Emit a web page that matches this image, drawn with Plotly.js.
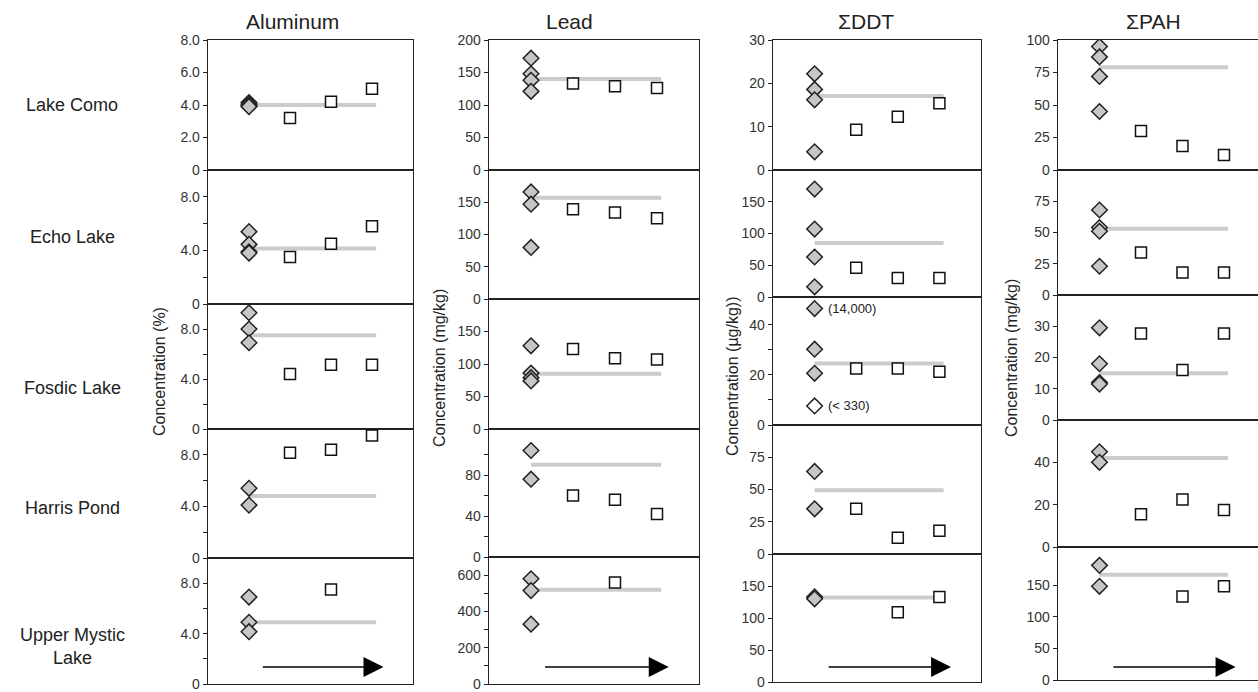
<!DOCTYPE html>
<html><head><meta charset="utf-8">
<script src="https://cdn.plot.ly/plotly-3.0.1.min.js"></script>
<style>html,body{margin:0;padding:0;background:#fff}#chart{width:1258px;height:692px}</style>
</head><body><div id="chart"></div><script>
// ---------- data ----------
const analytes = ["Aluminum", "Lead", "ΣDDT", "ΣPAH"];
const lakes = ["Lake Como", "Echo Lake", "Fosdic Lake", "Harris Pond", "Upper Mystic<br>Lake"];
const yTitles = ["Concentration (%)", "Concentration (mg/kg)", "Concentration (µg/kg))", "Concentration (mg/kg)"];

// sample positions along the core (x index)
const diamondX = 1;
const squareX = [2, 3, 4];
const meanSpan = [1, 4.1];

// Aluminum (%)
const alDiamonds = [[4.15, 4.05, 3.95, 3.9], [5.4, 4.45, 3.9, 3.8], [9.3, 8.0, 6.9], [5.4, 4.1], [6.9, 4.9, 4.15]];
const alMean = [4.0, 4.15, 7.5, 4.8, 4.9];
const alSquares = [[3.2, 4.2, 5.0], [3.5, 4.5, 5.8], [4.4, 5.15, 5.15], [8.15, 8.4, 9.5], [null, 7.5, null]];

// Lead (mg/kg)
const pbDiamonds = [[172, 148, 138, 121], [166, 147, 80], [128, 86, 79, 74], [104, 76], [580, 515, 330]];
const pbMean = [140, 157, 85, 90, 520];
const pbSquares = [[133, 129, 126], [139, 134, 125], [123, 109, 107], [60, 56, 42], [null, 560, null]];

// ΣDDT (µg/kg)
const ddtDiamonds = [[22.2, 18.6, 16.2, 4.2], [170, 107, 63, 16], [46.4, 30.2, 20.6], [64, 35], [133, 130]];
const ddtOpenDiamonds = [[], [], [7.6], [], []];
const ddtMean = [17.1, 85, 24.5, 49.5, 132];
const ddtSquares = [[9.3, 12.3, 15.4], [46, 30, 30], [22.5, 22.5, 21.2], [35, 12.5, 18], [null, 109, 133]];
const ddtNotes = [{row: 2, y: 46.4, text: "(14,000)"}, {row: 2, y: 7.6, text: "(< 330)"}];

// ΣPAH (mg/kg)
const pahDiamonds = [[95, 87, 72, 45], [68, 54, 51, 23], [29.5, 18, 12, 11.5], [45, 40], [181, 148]];
const pahMean = [79, 53, 15, 42, 166];
const pahSquares = [[30, 18.5, 11.5], [34, 18, 18], [27.7, 16, 27.7], [15.5, 22.5, 17.5], [null, 132, 148]];

// y ranges and ticks
const alRanges = [[0, 8], [0, 10], [0, 10], [0, 10], [0, 10]];
const pbRanges = [[0, 200], [0, 200], [0, 200], [0, 125], [0, 700]];
const ddtRanges = [[0, 30], [0, 200], [0, 51], [0, 100], [0, 200]];
const pahRanges = [[0, 100], [0, 100], [0, 40], [0, 60], [0, 210]];

const alTickVals = [[0, 2, 4, 6, 8], [0, 2, 4, 6, 8], [0, 2, 4, 6, 8], [0, 2, 4, 6, 8], [0, 2, 4, 6, 8]];
const alTickText = [["0", "2.0", "4.0", "6.0", "8.0"], ["0", "", "4.0", "", "8.0"], ["0", "", "4.0", "", "8.0"], ["0", "", "4.0", "", "8.0"], ["0", "", "4.0", "", "8.0"]];
const pbTickVals = [[0, 50, 100, 150, 200], [0, 50, 100, 150], [0, 50, 100, 150], [0, 20, 40, 60, 80, 100], [0, 100, 200, 300, 400, 500, 600]];
const pbTickText = [["0", "50", "100", "150", "200"], ["0", "50", "100", "150"], ["0", "50", "100", "150"], ["0", "", "40", "", "80", ""], ["0", "", "200", "", "400", "", "600"]];
const ddtTickVals = [[0, 10, 20, 30], [0, 50, 100, 150], [0, 10, 20, 30, 40], [0, 25, 50, 75], [0, 50, 100, 150]];
const ddtTickText = [["0", "10", "20", "30"], ["0", "50", "100", "150"], ["0", "", "20", "", "40"], ["0", "25", "50", "75"], ["0", "50", "100", "150"]];
const pahTickVals = [[0, 25, 50, 75, 100], [0, 25, 50, 75], [0, 10, 20, 30], [0, 20, 40], [0, 50, 100, 150]];
const pahTickText = [["0", "25", "50", "75", "100"], ["0", "25", "50", "75"], ["0", "10", "20", "30"], ["0", "20", "40"], ["0", "50", "100", "150"]];

// ---------- layout geometry (pixels) ----------
const W = 1258, H = 692;
const cols = [
  {L: 208, R: 413, rows: [40, 170, 304, 429, 558, 684], xr: [0, 5], mirrorY: true, titleX: 292, yTitleX: 159, yTitleY: 372},
  {L: 489, R: 699, rows: [40, 170, 299, 429, 557, 684], xr: [0, 5], mirrorY: true, titleX: 569, yTitleX: 440, yTitleY: 368},
  {L: 773, R: 981, rows: [40, 170, 297, 425, 554, 682], xr: [0, 5], mirrorY: true, titleX: 866, yTitleX: 733, yTitleY: 376},
  {L: 1058, R: 1258, rows: [40, 170, 295, 420, 547, 680], xr: [0, 4.82], mirrorY: false, titleX: 1153, yTitleX: 1011, yTitleY: 358}
];
const colData = [
  {d: alDiamonds, m: alMean, s: alSquares, r: alRanges, tv: alTickVals, tt: alTickText},
  {d: pbDiamonds, m: pbMean, s: pbSquares, r: pbRanges, tv: pbTickVals, tt: pbTickText},
  {d: ddtDiamonds, m: ddtMean, s: ddtSquares, r: ddtRanges, tv: ddtTickVals, tt: ddtTickText, open: ddtOpenDiamonds},
  {d: pahDiamonds, m: pahMean, s: pahSquares, r: pahRanges, tv: pahTickVals, tt: pahTickText}
];

const FONT = "Liberation Sans, Arial, sans-serif";
const traces = [];
const layout = {
  width: W, height: H, margin: {l: 0, r: 0, t: 0, b: 0},
  paper_bgcolor: "#fff", plot_bgcolor: "#fff", showlegend: false,
  font: {family: FONT, color: "#222"},
  annotations: [], shapes: []
};

cols.forEach((c, ci) => {
  const cd = colData[ci];
  for (let ri = 0; ri < 5; ri++) {
    const k = ci * 5 + ri + 1;
    const xa = "x" + k, ya = "y" + k;
    const top = c.rows[ri], bot = c.rows[ri + 1];
    layout["xaxis" + k] = {
      domain: [c.L / W, c.R / W], range: c.xr, anchor: ya,
      showticklabels: false, ticks: "", showgrid: false, zeroline: false,
      showline: true, mirror: true, linecolor: "#222", linewidth: 1.3, fixedrange: true
    };
    layout["yaxis" + k] = {
      domain: [1 - bot / H, 1 - top / H], range: cd.r[ri], anchor: xa,
      tickmode: "array", tickvals: cd.tv[ri], ticktext: cd.tt[ri],
      ticks: "outside", ticklen: 4, tickwidth: 1, tickcolor: "#222",
      ticklabeloverflow: "allow",
      tickfont: {family: FONT, size: 14, color: "#333"},
      showgrid: false, zeroline: false, showline: true, mirror: c.mirrorY,
      linecolor: "#222", linewidth: 1.3, fixedrange: true
    };
    // mean line
    traces.push({x: meanSpan, y: [cd.m[ri], cd.m[ri]], xaxis: xa, yaxis: ya, mode: "lines",
      line: {color: "#cccccc", width: 4}, hoverinfo: "skip"});
    // squares
    traces.push({x: squareX, y: cd.s[ri], xaxis: xa, yaxis: ya, mode: "markers",
      marker: {symbol: "square", size: 11, color: "#fff", line: {color: "#111", width: 1.5}}});
    // diamonds
    traces.push({x: cd.d[ri].map(() => diamondX), y: cd.d[ri], xaxis: xa, yaxis: ya, mode: "markers",
      marker: {symbol: "diamond", size: 12, color: "#c6c6c6", line: {color: "#222", width: 1.5}}});
    if (cd.open && cd.open[ri].length) {
      traces.push({x: cd.open[ri].map(() => diamondX), y: cd.open[ri], xaxis: xa, yaxis: ya, mode: "markers",
        marker: {symbol: "diamond", size: 12, color: "#fff", line: {color: "#222", width: 1.5}}});
    }
    if (ri === 4) {
      // time arrow
      layout.annotations.push({
        xref: xa, yref: "paper", x: 4.28, y: 1 - 667 / H,
        axref: xa, ax: 1.3, ayref: "pixel", ay: 0,
        showarrow: true, arrowhead: 2, arrowsize: 2.5, arrowwidth: 1.6, arrowcolor: "#000", text: ""
      });
    }
  }
  // column title
  layout.annotations.push({xref: "paper", yref: "paper", x: c.titleX / W, y: 1 - 22 / H,
    text: analytes[ci], showarrow: false, font: {size: 21, family: FONT, color: "#222"},
    xanchor: "center", yanchor: "middle"});
  // y title
  layout.annotations.push({xref: "paper", yref: "paper", x: c.yTitleX / W, y: 1 - c.yTitleY / H,
    text: yTitles[ci], textangle: -90, showarrow: false, font: {size: 16, family: FONT, color: "#222"},
    xanchor: "center", yanchor: "middle"});
});

// DDT notes
ddtNotes.forEach(n => {
  const k = 2 * 5 + n.row + 1;
  layout.annotations.push({xref: "x" + k, yref: "y" + k, x: diamondX, y: n.y, xshift: 11,
    text: n.text, showarrow: false, xanchor: "left", yanchor: "middle",
    font: {size: 13, family: FONT, color: "#222"}});
});

// row labels
const rowCenters = [105, 237, 388, 508, 646];
lakes.forEach((t, i) => {
  layout.annotations.push({xref: "paper", yref: "paper", x: 72 / W, y: 1 - rowCenters[i] / H,
    text: t, showarrow: false, font: {size: 18, family: FONT, color: "#222"},
    xanchor: "center", yanchor: "middle"});
});

Plotly.newPlot("chart", traces, layout, {displayModeBar: false, staticPlot: true});
</script></body></html>
